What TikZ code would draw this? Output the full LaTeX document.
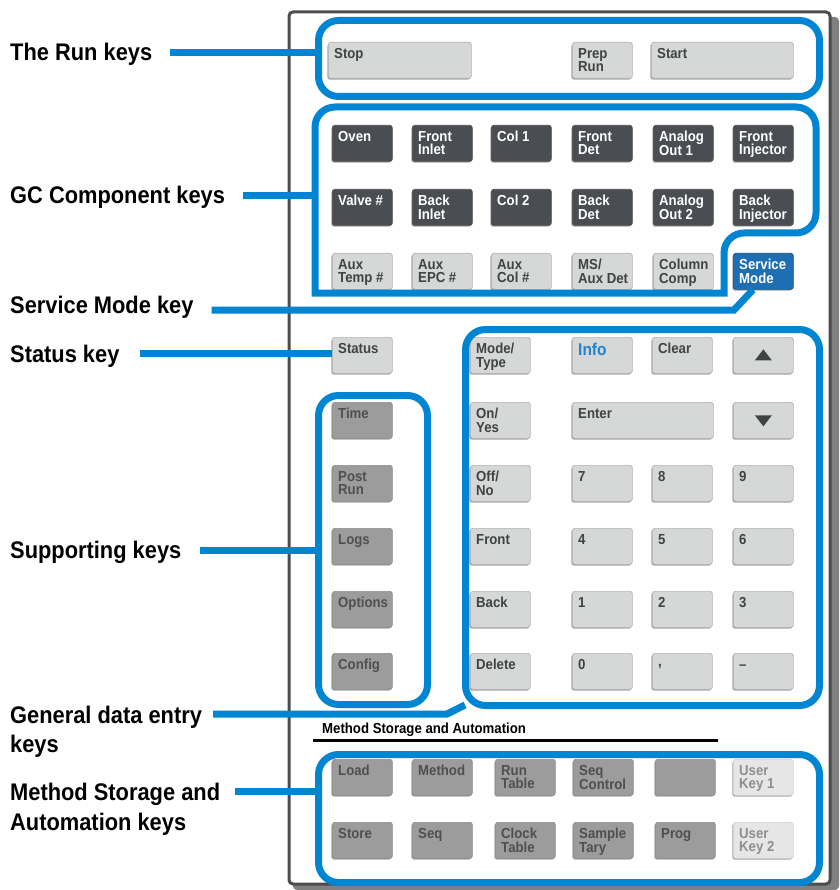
\documentclass[tikz,border=0pt]{standalone}
\usepackage{fontspec}
\setmainfont{Liberation Sans}
\newfontfamily\condfont[FakeStretch=0.91]{Liberation Sans}
\usetikzlibrary{positioning}

\definecolor{gcblue}{HTML}{0085D2}
\definecolor{keylight}{HTML}{D6D7D7}
\definecolor{keydark}{HTML}{4A4D52}
\definecolor{keymid}{HTML}{9C9C9C}
\definecolor{keyuser}{HTML}{E6E6E6}
\definecolor{keysvc}{HTML}{1E6EB4}
\definecolor{inklight}{HTML}{404244}
\definecolor{inkmid}{HTML}{4E4F50}
\definecolor{inkuser}{HTML}{8E8E8E}
\definecolor{infoblue}{HTML}{2182D0}

\tikzset{
  padkey/.style={draw=black!30, line width=0.7pt, rounded corners=2.5pt,
    minimum height=36pt, inner sep=0pt, anchor=north west,
    preaction={fill=black!35, transform canvas={shift={(-1pt,-1.3pt)}}}},
  keytxt/.style={font=\condfont\bfseries\fontsize{14.5}{13.5}\selectfont,
    align=left, inner sep=0pt, anchor=north west},
  lightkey/.style={padkey, fill=keylight},
  lightkey txt/.style={keytxt, text=inklight},
  darkkey/.style={padkey, fill=keydark, draw=black!70},
  darkkey txt/.style={keytxt, text=white},
  midkey/.style={padkey, fill=keymid, draw=black!45},
  midkey txt/.style={keytxt, text=inkmid},
  userkey/.style={padkey, fill=keyuser, draw=black!18},
  userkey txt/.style={keytxt, text=inkuser},
  svckey/.style={padkey, fill=keysvc, draw=keysvc!70!black},
  svckey txt/.style={keytxt, text=white},
  grpbox/.style={draw=gcblue, line width=7pt, rounded corners=20pt,
    inner sep=0pt, anchor=north west},
  leader/.style={draw=gcblue, line width=7pt},
  keylbl/.style={font=\condfont\bfseries\fontsize{24}{31}\selectfont,
    anchor=base west, inner sep=0pt},
}

% key: [width]{style}{name}{x,y}{text}
\newcommand{\padbtn}[5][60pt]{%
  \node[#2, minimum width=#1] (#3) at (#4) {};
  \node[#2 txt] (#3-t) at ([xshift=6pt,yshift=-6pt]#3.north west) {#5};}

\begin{document}
\begin{tikzpicture}[x=1pt, y=-1pt]
  \useasboundingbox (0,0) rectangle (839,890);

  % panel
  \fill[black!50, rounded corners=4pt] (293,17) rectangle (839,890);
  \draw[black!70, line width=3pt, fill=white, rounded corners=4pt]
    (289,12) rectangle (830,884);

  % run keys
  \padbtn[143pt]{lightkey}{stop}{328,42}{Stop}
  \padbtn{lightkey}{prep}{572,42}{Prep\\Run}
  \padbtn[142pt]{lightkey}{start}{651,42}{Start}

  % gc component keys
  \foreach \nm/\x/\txt in {oven/332/Oven, finlet/412/{Front\\Inlet},
      col1/491/{Col 1}, fdet/572/{Front\\Det}, aout1/653/{Analog\\Out 1},
      finj/733/{Front\\Injector}}
    \padbtn{darkkey}{\nm}{\x,125}{\txt};
  \foreach \nm/\x/\txt in {valve/332/{Valve \#}, binlet/412/{Back\\Inlet},
      col2/491/{Col 2}, bdet/572/{Back\\Det}, aout2/653/{Analog\\Out 2},
      binj/733/{Back\\Injector}}
    \padbtn{darkkey}{\nm}{\x,189}{\txt};
  \foreach \nm/\x/\txt in {auxtemp/332/{Aux\\Temp \#}, auxepc/412/{Aux\\EPC \#},
      auxcol/491/{Aux\\Col \#}, msaux/572/{MS/\\Aux Det},
      colcomp/653/{Column\\Comp}}
    \padbtn{lightkey}{\nm}{\x,253}{\txt};
  \padbtn{svckey}{sm}{733,253}{Service\\Mode}

  % status and supporting keys
  \padbtn{lightkey}{status}{332,337}{Status}
  \foreach \nm/\y/\txt in {time/402/Time, post/465/{Post\\Run},
      logs/528/Logs, opts/591/Options, config/653/Config}
    \padbtn{midkey}{\nm}{332,\y}{\txt};

  % general data entry
  \padbtn{lightkey}{mode}{470,337}{Mode/\\Type}
  \padbtn{lightkey}{info}{572,337}{\textcolor{infoblue}{\fontsize{17}{17}\selectfont Info}}
  \padbtn{lightkey}{clear}{652,337}{Clear}
  \padbtn{lightkey}{up}{733,337}{}
  \padbtn{lightkey}{onyes}{470,402}{On/\\Yes}
  \padbtn[141pt]{lightkey}{enter}{572,402}{Enter}
  \padbtn{lightkey}{down}{733,402}{}
  \padbtn{lightkey}{offno}{470,465}{Off/\\No}
  \padbtn{lightkey}{front}{470,528}{Front}
  \padbtn{lightkey}{back}{470,591}{Back}
  \padbtn{lightkey}{delete}{470,653}{Delete}
  \foreach \nm/\y/\a/\b/\c in {r7/465/7/8/9, r4/528/4/5/6, r1/591/1/2/3}{
    \padbtn{lightkey}{\nm a}{572,\y}{\a}
    \padbtn{lightkey}{\nm b}{652,\y}{\b}
    \padbtn{lightkey}{\nm c}{733,\y}{\c}
  }
  \padbtn{lightkey}{zero}{572,653}{0}
  \padbtn{lightkey}{comma}{652,653}{\vphantom{0}\raisebox{3pt}{,}}
  \padbtn{lightkey}{minus}{733,653}{\vphantom{0}–}
  \fill[inklight] ([shift={(-8.5,5)}]up.center) -- ([shift={(8.5,5)}]up.center)
    -- ([shift={(0,-6)}]up.center) -- cycle;
  \fill[inklight] ([shift={(-8.5,-5)}]down.center) -- ([shift={(8.5,-5)}]down.center)
    -- ([shift={(0,6)}]down.center) -- cycle;

  % method storage and automation
  \node[font=\condfont\bfseries\fontsize{14.5}{14.5}\selectfont, anchor=base west,
    inner sep=0pt] (mshead) at (322,733) {Method Storage and Automation};
  \draw[line width=3pt] (313,740) -- (718,740);
  \foreach \nm/\x/\txt in {load/332/Load, method/412/Method,
      runtab/495/{Run\\Table}, seqctl/573/{Seq\\Control}, blank/655/{}}
    \padbtn{midkey}{\nm}{\x,759}{\txt};
  \foreach \nm/\x/\txt in {store/332/Store, seq/412/Seq,
      clocktab/495/{Clock\\Table}, sample/573/{Sample\\Tary}, prog/655/Prog}
    \padbtn{midkey}{\nm}{\x,822}{\txt};
  \padbtn{userkey}{user1}{733,759}{User\\Key 1}
  \padbtn{userkey}{user2}{733,822}{User\\Key 2}

  % group outlines
  \node[grpbox, minimum width=501pt, minimum height=76pt] (runbox) at (315,17) {};
  \draw[grpbox] (500,107) -- (816,107) -- (816,233) -- (724,233) [sharp corners]
    -- (724,293) -- (315,293) [rounded corners=20pt] -- (315,107) -- cycle;
  \coordinate (gcbox) at (315,200);
  \node[grpbox, minimum width=109pt, minimum height=309pt] (supbox) at (315,392) {};
  \node[grpbox, minimum width=354pt, minimum height=376pt] (genbox) at (462,326) {};
  \node[grpbox, minimum width=501pt, minimum height=128pt] (msbox) at (315,751) {};

  % labels
  \node[keylbl] (runlbl) at (10,61) {The Run keys};
  \node[keylbl] (gclbl) at (10,204) {GC Component keys};
  \node[keylbl] (smlbl) at (10,313) {Service Mode key};
  \node[keylbl] (statlbl) at (10,362) {Status key};
  \node[keylbl] (suplbl) at (10,558) {Supporting keys};
  \node[keylbl] (genlbl) at (10,723) {General data entry};
  \node[keylbl] (genlbl2) at (10,752) {keys};
  \node[keylbl] (mslbl) at (10,800) {Method Storage and};
  \node[keylbl] (mslbl2) at (10,830) {Automation keys};

  % leaders
  \draw[leader] ([xshift=18pt,yshift=8pt]runlbl.base east) coordinate (runl)
    -- (runl -| runbox.west);
  \draw[leader] ([xshift=18pt,yshift=8pt]gclbl.base east) coordinate (gcl)
    -- (gcl -| gcbox);
  \coordinate (smbend) at (734,310);
  \draw[leader] ([xshift=18pt,yshift=3pt]smlbl.base east) coordinate (sml)
    -- (sml -| smbend) -- ([xshift=20pt]sm.south west);
  \draw[leader] ([xshift=20pt,yshift=9pt]statlbl.base east) coordinate (statl)
    -- (statl -| status.west);
  \draw[leader] ([xshift=18pt,yshift=8pt]suplbl.base east) coordinate (supl)
    -- (supl -| supbox.west);
  \coordinate (genbend) at (447,714);
  \draw[leader] ([xshift=11pt,yshift=9pt]genlbl.base east) coordinate (genl)
    -- (genl -| genbend) -- ([shift={(3,-4)}]genbox.south west);
  \draw[leader] ([xshift=15pt,yshift=9pt]mslbl.base east) coordinate (msl)
    -- (msl -| msbox.west);
\end{tikzpicture}
\end{document}
